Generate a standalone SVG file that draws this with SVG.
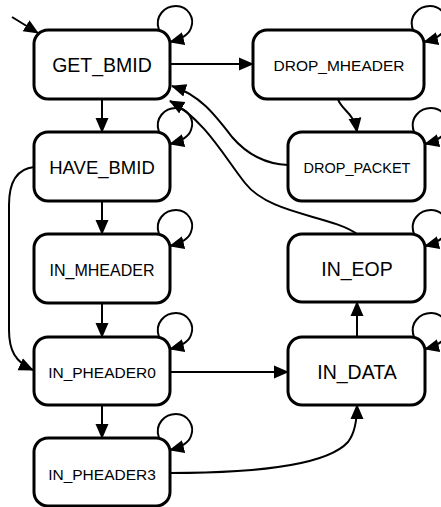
<svg xmlns="http://www.w3.org/2000/svg" width="441" height="507" viewBox="0 0 441 507">
<style>
.node rect{fill:#fff;stroke:#000;stroke-width:3}
.node text{font-family:"Liberation Sans",Arial,sans-serif;text-anchor:middle;fill:#000}
.lg{font-size:19.5px}
.sm{font-size:15.5px}
.edge{fill:none;stroke:#000;stroke-width:2;marker-end:url(#arr)}
</style>
<defs>
<marker id="arr" markerUnits="userSpaceOnUse" markerWidth="15" markerHeight="14" viewBox="0 0 15 14" refX="14" refY="7" orient="auto">
<path d="M0,0.5 L15,7 L0,13.5 z" fill="#000"/>
</marker>
</defs>
<g id="connectors">
<path class="edge" d="M12,17 L38,33"/>
<path class="edge" d="M170,64 L253,64"/>
<path class="edge" d="M102,99 L102,132"/>
<path class="edge" d="M338,99 C341,110 354,112 357,132"/>
<path class="edge" d="M288,165 C262,164 245,152 232,137 C215,115 200,95 172,86"/>
<path class="edge" d="M357,234 C330,215 270,215 245,183 C225,158 205,120 170,101"/>
<path class="edge" d="M102,201 L102,234"/>
<path class="edge" d="M34,167 C15,169 9,185 9,205 L9,330 C9,350 15,362 33,370"/>
<path class="edge" d="M102,303 L102,337"/>
<path class="edge" d="M170,372 L288,372"/>
<path class="edge" d="M102,405 L102,438"/>
<path class="edge" d="M170,473 C270,473 330,462 348,442 C355,433 357,420 357,405"/>
<path class="edge" d="M357,337 L357,302"/>
<path class="edge" transform="translate(170,30)" d="M-11,0 C-16,-14 -5,-24 6,-24 C18,-24 25,-12 21,-2 C19,4 12,9 0,12"/>
<path class="edge" transform="translate(170,132)" d="M-11,0 C-16,-14 -5,-24 6,-24 C18,-24 25,-12 21,-2 C19,4 12,9 0,12"/>
<path class="edge" transform="translate(170,234)" d="M-11,0 C-16,-14 -5,-24 6,-24 C18,-24 25,-12 21,-2 C19,4 12,9 0,12"/>
<path class="edge" transform="translate(170,337)" d="M-11,0 C-16,-14 -5,-24 6,-24 C18,-24 25,-12 21,-2 C19,4 12,9 0,12"/>
<path class="edge" transform="translate(170,438)" d="M-11,0 C-16,-14 -5,-24 6,-24 C18,-24 25,-12 21,-2 C19,4 12,9 0,12"/>
<path class="edge" transform="translate(424,30)" d="M-11,0 C-16,-14 -5,-24 6,-24 C18,-24 25,-12 21,-2 C19,4 12,9 0,12"/>
<path class="edge" transform="translate(425,132)" d="M-11,0 C-16,-14 -5,-24 6,-24 C18,-24 25,-12 21,-2 C19,4 12,9 0,12"/>
<path class="edge" transform="translate(425,234)" d="M-11,0 C-16,-14 -5,-24 6,-24 C18,-24 25,-12 21,-2 C19,4 12,9 0,12"/>
<path class="edge" transform="translate(425,337)" d="M-11,0 C-16,-14 -5,-24 6,-24 C18,-24 25,-12 21,-2 C19,4 12,9 0,12"/>
</g>
<g id="GET_BMID" class="node"><rect x="34" y="30" width="136" height="69" rx="14"/><text class="lg" x="102" y="72">GET_BMID</text></g>
<g id="DROP_MHEADER" class="node"><rect x="253" y="30" width="171" height="69" rx="14"/><text class="sm" x="339" y="71">DROP_MHEADER</text></g>
<g id="HAVE_BMID" class="node"><rect x="34" y="132" width="136" height="69" rx="14"/><text class="lg" x="102" y="174" style="font-size:18.5px">HAVE_BMID</text></g>
<g id="DROP_PACKET" class="node"><rect x="288" y="132" width="137" height="69" rx="14"/><text class="sm" x="357" y="173" style="font-size:14.5px">DROP_PACKET</text></g>
<g id="IN_MHEADER" class="node"><rect x="34" y="234" width="136" height="69" rx="14"/><text class="sm" x="102" y="276" style="font-size:16px">IN_MHEADER</text></g>
<g id="IN_EOP" class="node"><rect x="288" y="234" width="137" height="68" rx="14"/><text class="lg" x="357" y="276">IN_EOP</text></g>
<g id="IN_PHEADER0" class="node"><rect x="34" y="337" width="136" height="68" rx="14"/><text class="sm" x="102" y="378">IN_PHEADER0</text></g>
<g id="IN_DATA" class="node"><rect x="288" y="337" width="137" height="68" rx="14"/><text class="lg" x="357" y="379">IN_DATA</text></g>
<g id="IN_PHEADER3" class="node"><rect x="34" y="438" width="136" height="68" rx="14"/><text class="sm" x="102" y="480">IN_PHEADER3</text></g>
</svg>
